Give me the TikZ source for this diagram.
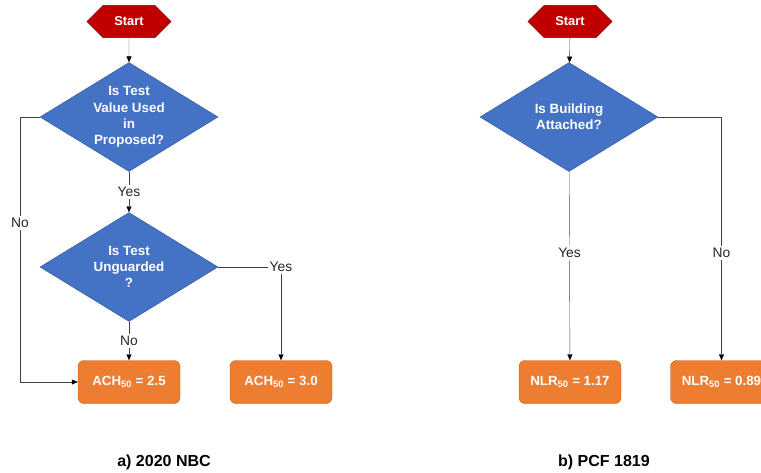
\documentclass[tikz,border=0pt]{standalone}
\usepackage{fontspec}
\setmainfont{Liberation Sans}
\usepackage{tikz}
\usetikzlibrary{shapes.geometric, shapes.misc, arrows.meta}
\definecolor{startred}{HTML}{C00000}
\definecolor{startline}{HTML}{7F0000}
\definecolor{askblue}{HTML}{4472C4}
\definecolor{askline}{HTML}{2F528F}
\definecolor{valorange}{HTML}{ED7D31}
\definecolor{valline}{HTML}{C55A11}
\definecolor{linkgray}{HTML}{404040}

\begin{document}
\begin{tikzpicture}[x=1pt, y=-1pt, >={Triangle[length=6pt, width=5pt, color=black]}]
  \tikzstyle{start}=[chamfered rectangle, chamfered rectangle xsep=10pt, chamfered rectangle ysep=11.5pt, minimum width=84pt, minimum height=23pt, inner sep=0pt, draw=startline, fill=startred, text=white, font=\bfseries\fontsize{12.9}{15}\selectfont]
  \tikzstyle{ask}=[diamond, aspect=1.63, minimum width=178pt, minimum height=109pt, inner sep=0pt, draw=askline, fill=askblue, text=white, align=center, font=\bfseries\fontsize{13.4}{16.3}\selectfont]
  \tikzstyle{val}=[rectangle, rounded corners=6pt, minimum width=102pt, minimum height=43pt, draw=valline, fill=valorange, text=white, font=\bfseries\fontsize{13.3}{15}\selectfont]
  \tikzstyle{lbl}=[fill=white, inner sep=2pt, text=black!85, font=\fontsize{13.8}{15}\selectfont]
  \tikzstyle{caption}=[font=\bfseries\fontsize{16}{18}\selectfont]
  \useasboundingbox (0,0) rectangle (761,472);
  \clip (0,0) rectangle (761,472);
  % a) 2020 NBC
  \node[start] (A_start) at (129,21.5) {Start};
  \node[ask] (A_q1) at (129,117) {Is Test\\Value Used\\in\\Proposed?};
  \node[ask] (A_q2) at (129,267) {Is Test\\Unguarded\\?};
  \node[val] (A_box1) at (129,382) {ACH\textsubscript{50} = 2.5};
  \node[val] (A_box2) at (281,382) {ACH\textsubscript{50} = 3.0};
  \coordinate (A_c1) at (20,117);
  \node[caption] (A_cap) at (164,462) {a) 2020 NBC};
  \draw[linkgray, ->] (A_start) -- (A_q1);
  \draw[linkgray, ->] (A_q1) -- node[lbl]{Yes} (A_q2);
  \draw[linkgray, ->] (A_q1.west) -- (A_c1) |- node[lbl, pos=0.2]{No} (A_box1);
  \draw[linkgray, ->] (A_q2) -- node[lbl]{No} (A_box1);
  \draw[linkgray, ->] (A_q2.east) -| node[lbl]{Yes} (A_box2);
  % b) PCF 1819
  \node[start] (B_start) at (570,21.5) {Start};
  \node[ask] (B_q) at (569,117) {Is Building\\Attached?};
  \node[val] (B_box1) at (570,382) {NLR\textsubscript{50} = 1.17};
  \node[val] (B_box2) at (721.5,382) {NLR\textsubscript{50} = 0.89};
  \node[caption] (B_cap) at (604,462) {b) PCF 1819};
  \draw[linkgray, ->] (B_start) -- (B_q);
  \draw[linkgray, ->] (B_q) -- node[lbl, pos=0.43]{Yes} (B_box1);
  \draw[linkgray, ->] (B_q.east) -| node[lbl, pos=0.78]{No} (B_box2);
\end{tikzpicture}
\end{document}
